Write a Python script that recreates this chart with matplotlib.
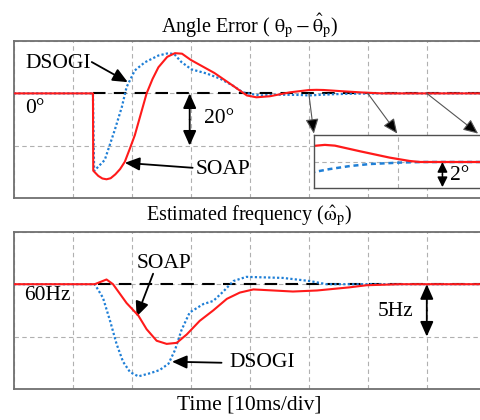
import matplotlib
matplotlib.use("Agg")
from matplotlib import pyplot as plt

plt.rcParams['font.family'] = ['Liberation Serif', 'DejaVu Serif']
plt.rcParams['mathtext.fontset'] = 'stix'

# time in ms (10 ms / div), angle error in degrees
t_soap_ang = [0, 13.4, 13.45, 14.3, 15.0, 15.7, 16.4, 17.2, 18.0, 18.8, 19.6, 20.5, 21.5,
              22.5, 23.5, 24.5, 26.0, 27.3, 28.5, 30.0, 32.0, 34.0, 37.1, 39.5, 41.1,
              43.4, 46.8, 50, 51.3, 52.5, 55.5, 59, 61.4, 62.6, 80]
soap_ang = [0, 0, -29.6, -31.6, -32.6, -32.9, -32.5, -31.0, -29.0, -26.2, -21.5, -16.0,
            -8.0, 0.0, 5.5, 10.0, 14.0, 15.4, 15.2, 12.8, 10.3, 7.8, 3.0, -0.8, -1.5,
            -1.1, 0.4, 1.28, 1.36, 1.3, 0.85, 0.35, 0.08, 0, 0]

t_dsogi_ang = [0, 13.4, 13.6, 15.4, 17.1, 18.3, 19.1, 20.5, 22.2, 24.5, 26.2, 27.2, 28.4,
               30.1, 32.7, 34.9, 37.1, 38.8, 41.7, 44.6, 48.5, 50, 51.9, 54.3, 56.7, 60.5,
               62.9, 80]
dsogi_ang = [0, 0, -29.7, -25.5, -14.0, -5.2, 2.4, 8.8, 11.9, 14.5, 15.4, 15.0, 12.0,
             9.2, 7.6, 5.7, 3.0, 0.4, -0.8, -0.5, -0.6, -0.8, -0.56, -0.32, -0.16, -0.04,
             0, 0]

# estimated frequency in Hz
t_soap_f = [0, 13.7, 15.7, 16.8, 19.1, 21.1, 22.5, 24.2, 25.9, 27.6, 29.3, 31.5, 33.8,
            36.1, 38.3, 40.6, 44.0, 47.3, 51.4, 56.9, 59.8, 65.4, 80]
soap_f = [60, 60, 60.45, 60.0, 58.2, 57.0, 55.7, 54.6, 54.3, 54.4, 55.2, 56.5, 57.5,
          58.6, 59.2, 59.5, 59.4, 59.3, 59.4, 59.7, 59.9, 60, 60]

t_dsogi_f = [0, 13.7, 15.1, 16.3, 17.4, 18.5, 19.7, 21.1, 23.1, 24.7, 26.2, 27.3, 28.4,
             29.8, 32.1, 33.8, 35.5, 37.2, 39.4, 45.6, 50.2, 53.0, 80]
dsogi_f = [60, 60, 58.7, 56.5, 54.3, 52.6, 51.6, 51.2, 51.5, 51.8, 52.4, 53.7, 55.6,
           57.3, 58.1, 58.4, 59.3, 60.3, 60.7, 60.6, 60.3, 60.0, 60]

RED = '#ff1a1a'
BLUE = '#1f7fd6'
GRID = '#b0b0b0'
SPINE = '#707070'
FS = 15.5
TFS = 14.5


def setup(ax, ylim, yticks):
    ax.set_xlim(0, 80)
    ax.set_ylim(*ylim)
    ax.set_xticks(range(0, 81, 10))
    ax.set_yticks(yticks)
    ax.tick_params(length=0, labelbottom=False, labelleft=False)
    ax.grid(True, color=GRID, linestyle=(0, (4, 3)), linewidth=0.8)
    for s in ax.spines.values():
        s.set_color(SPINE)
        s.set_linewidth(1.3)


def arrow(ax, text_xy, tip, style='-|>', color='black', lw=1.3):
    ax.annotate('', xy=tip, xytext=text_xy,
                arrowprops=dict(arrowstyle=style + ',head_length=0.9,head_width=0.4',
                                color=color, lw=lw, shrinkA=0, shrinkB=0))


fig = plt.figure(figsize=(4.8, 4.2), dpi=100)

# ---------- angle error ----------
ax1 = fig.add_axes([0.029, 0.529, 0.983, 0.373])
setup(ax1, (-40, 20), [-40, -20, 0, 20])
ax1.plot([13.4, 80], [0, 0], color='black', lw=1.5, ls=(0, (6, 4)), zorder=2)
ax1.plot(t_dsogi_ang, dsogi_ang, color=BLUE, lw=1.6, ls=(0, (1, 1)), zorder=3)
ax1.plot(t_soap_ang, soap_ang, color=RED, lw=1.5, zorder=4)

ax1.text(1.9, -5.8, '0°', fontsize=FS, va='center')
ax1.text(2.0, 11.5, 'DSOGI', fontsize=FS, va='center')
arrow(ax1, (13.2, 12), (19.3, 4.3))
ax1.text(30.8, -29.3, 'SOAP', fontsize=FS, va='center')
arrow(ax1, (30.3, -28.5), (18.8, -26.6))
arrow(ax1, (29.8, -10), (29.8, 0), style='-|>')
arrow(ax1, (29.8, -10), (29.8, -20), style='-|>')
ax1.text(32.2, -9.8, '20°', fontsize=FS, va='center')

# zoom arrows toward the inset
for x0, x1 in [(50, 50.85), (60, 65.0), (70, 78.7)]:
    ax1.annotate('', xy=(x1, -15.4), xytext=(x0, 0),
                 arrowprops=dict(arrowstyle='-|>,head_length=0.9,head_width=0.4',
                                 fc='black', ec='#555555', lw=0.8,
                                 shrinkA=0, shrinkB=0), zorder=5)

# inset
axi = fig.add_axes([0.654, 0.552, 0.35, 0.127])
axi.set_xlim(50, 70)
axi.set_ylim(-2.08, 2.16)
axi.set_xticks([60])
axi.set_yticks([0])
axi.tick_params(length=0, labelbottom=False, labelleft=False)
axi.grid(True, color=GRID, linestyle=(0, (4, 3)), linewidth=0.8)
for s in axi.spines.values():
    s.set_color('#505050')
    s.set_linewidth(1.0)
axi.plot(t_dsogi_ang, dsogi_ang, color=BLUE, lw=1.8, ls=(0, (2, 1.5)))
axi.plot(t_soap_ang, soap_ang, color=RED, lw=1.6)
axi.annotate('', xy=(65.3, 0), xytext=(65.3, -1.0),
             arrowprops=dict(arrowstyle='-|>,head_length=0.6,head_width=0.3',
                             color='black', lw=1.1, shrinkA=0, shrinkB=0))
axi.annotate('', xy=(65.3, -2.0), xytext=(65.3, -1.0),
             arrowprops=dict(arrowstyle='-|>,head_length=0.6,head_width=0.3',
                             color='black', lw=1.1, shrinkA=0, shrinkB=0))
axi.text(66.2, -1.05, '2°', fontsize=FS, va='center')

fig.text(0.52, 0.94, r'Angle Error ( $\mathrm{\theta}_\mathrm{p} - \hat{\mathrm{\theta}}_\mathrm{p}$)',
         fontsize=TFS, ha='center', va='center')

# ---------- estimated frequency ----------
ax2 = fig.add_axes([0.029, 0.074, 0.983, 0.374])
setup(ax2, (50, 65), [50, 55, 60, 65])
ax2.plot([14.2, 80], [60, 60], color='black', lw=1.5, ls=(0, (6, 4)), zorder=2)
ax2.plot(t_dsogi_f, dsogi_f, color=BLUE, lw=1.6, ls=(0, (1, 1)), zorder=3)
ax2.plot(t_soap_f, soap_f, color=RED, lw=1.5, zorder=4)

ax2.text(1.7, 58.9, '60Hz', fontsize=FS, va='center')
ax2.text(20.8, 62.0, 'SOAP', fontsize=FS, va='center')
arrow(ax2, (23.6, 61.0), (20.8, 56.9))
ax2.text(36.5, 52.5, 'DSOGI', fontsize=FS, va='center')
arrow(ax2, (35.2, 52.5), (26.8, 52.6))
arrow(ax2, (70, 57.5), (70, 60))
arrow(ax2, (70, 57.5), (70, 55))
ax2.text(61.6, 57.4, '5Hz', fontsize=FS, va='center')

fig.text(0.52, 0.486, r'Estimated frequency ($\hat{\mathrm{\omega}}_\mathrm{p}$)',
         fontsize=TFS, ha='center', va='center')
fig.text(0.52, 0.036, 'Time [10ms/div]', fontsize=FS, ha='center', va='center')

fig.savefig('out.png', dpi=100)
